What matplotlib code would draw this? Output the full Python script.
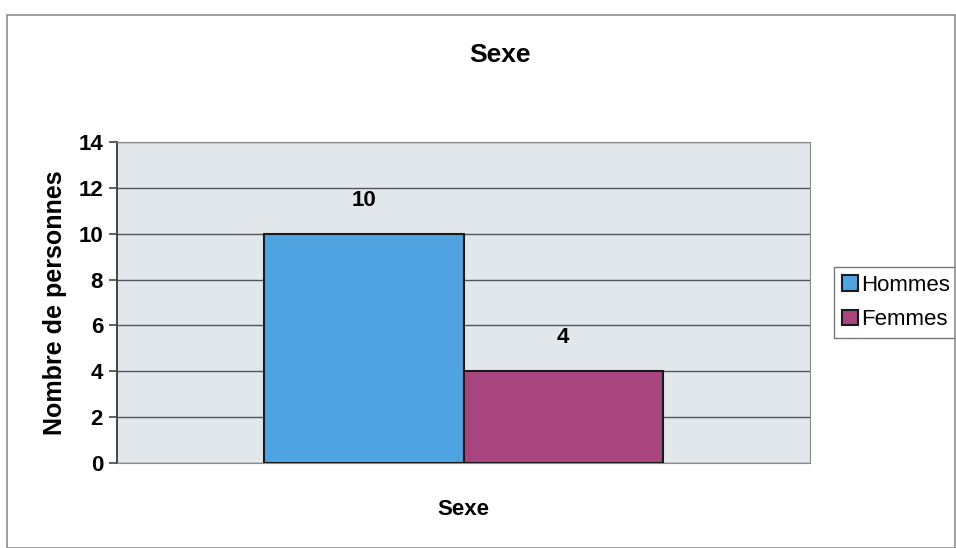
import matplotlib.pyplot as plt
import matplotlib.patches as mpatches
from matplotlib import font_manager
import numpy as np

# narrow font if available, like the Arial Narrow look of the original
names = {f.name for f in font_manager.fontManager.ttflist}
fam = 'Liberation Sans Narrow' if 'Liberation Sans Narrow' in names else 'Liberation Sans'
plt.rcParams['font.family'] = [fam, 'DejaVu Sans']

# data
categories = ['Hommes', 'Femmes']
values = [10, 4]
colors = ['#4fa3e0', '#a8457e']

fig = plt.figure(figsize=(9.56, 5.48), dpi=100)
fig.patch.set_facecolor('white')

# outer chart border
fig.patches.append(mpatches.Rectangle((7/956, 0.0), 948/956, 1 - 15/548,
                                      transform=fig.transFigure, fill=False,
                                      edgecolor='#8c8c8c', linewidth=1.2))

ax = fig.add_axes([117/956, 1 - 463/548, 693/956, 321/548])
ax.set_facecolor('#e2e7ec')

x = np.array([-0.5, 0.5])
bars = ax.bar(x, values, width=1.0, color=colors, edgecolor='#1a1a1a',
              linewidth=1.5, label=categories, zorder=3)

for xi, v in zip(x, values):
    ax.text(xi, v + 1.0, str(v), ha='center', va='bottom',
            fontsize=16, fontweight='bold')

ax.set_xlim(-1.74, 1.74)
ax.set_ylim(0, 14)
ax.set_yticks(range(0, 15, 2))
ax.set_xticks([])
ax.yaxis.grid(True, color='#555555', linewidth=1.0, zorder=0)
ax.set_axisbelow(True)
ax.tick_params(axis='y', labelsize=16, length=6, width=1.2, color='#444444', pad=4)
for lbl in ax.get_yticklabels():
    lbl.set_fontweight('bold')

for s in ['top', 'right']:
    ax.spines[s].set_color('#8a8a8a')
ax.spines['bottom'].set_color('#8a8a8a')
ax.spines['left'].set_color('#444444')
ax.spines['left'].set_linewidth(1.4)

ax.set_ylabel('Nombre de personnes', fontsize=18, fontweight='bold', labelpad=8)
ax.set_xlabel('Sexe', fontsize=16, fontweight='bold', labelpad=26)

fig.text(500/956, 1 - 55/548, 'Sexe', ha='center', va='center',
         fontsize=19, fontweight='bold')

leg = ax.legend(loc='center left', bbox_to_anchor=(1.035, 0.5), frameon=True,
                fancybox=False, edgecolor='#555555', fontsize=16,
                handlelength=0.7, handleheight=0.7, handletextpad=0.15,
                borderpad=0.35, labelspacing=0.6, borderaxespad=0)
leg.get_frame().set_linewidth(1.0)

fig.savefig('out.png', dpi=100)
